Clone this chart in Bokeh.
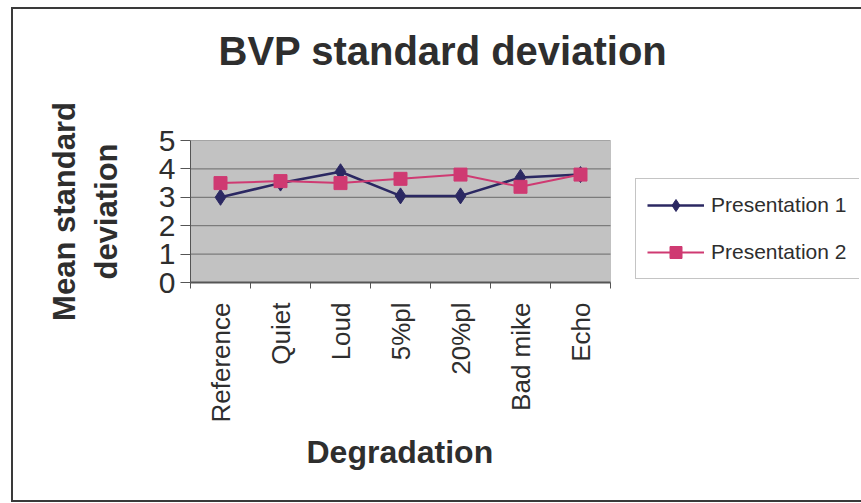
import math
from bokeh.plotting import figure
from bokeh.models import (FixedTicker, Legend, LegendItem, BoxAnnotation, Range1d,
                          Title, InlineStyleSheet)
from bokeh.embed import file_html
from bokeh.resources import INLINE

# ---- data ----
categories = ["Reference", "Quiet", "Loud", "5%pl", "20%pl", "Bad mike", "Echo"]
presentation_1 = [3.0, 3.5, 3.9, 3.05, 3.05, 3.7, 3.8]
presentation_2 = [3.5, 3.57, 3.5, 3.65, 3.8, 3.37, 3.8]
y_ticks = [0, 1, 2, 3, 4, 5]
title_text = "BVP standard deviation"
x_title = "Degradation"
y_title = "Mean standard\ndeviation"

FONT = "Liberation Sans"
TXT = "#2e2e2e"
C1 = "#2b2862"
C2 = "#cf3a72"

n = len(categories)
xs = [i + 0.5 for i in range(n)]
ymax = y_ticks[-1]

# plot area 420 px wide for the categories; frame extends right to host the legend
FRAME_W = 861 - 190 - 2
x_end = n * FRAME_W / 420.0

p = figure(width=861, height=503, output_backend="svg", toolbar_location=None,
           x_range=Range1d(0, x_end), y_range=Range1d(0, ymax),
           min_border_left=190, min_border_right=2,
           min_border_top=140, min_border_bottom=221)

p.background_fill_color = "white"
p.border_fill_color = "white"
p.outline_line_color = None
p.xgrid.grid_line_color = None
p.ygrid.grid_line_color = None
p.stylesheets = [InlineStyleSheet(css="""
:host { position: relative; }
:host::after {
  content: ""; position: absolute; left: 11px; top: 7px; right: -10px; bottom: 1px;
  border: 2px solid #3a3a3a; pointer-events: none; z-index: 1000;
}
""")]

# grey plot area
p.add_layout(BoxAnnotation(left=0, right=n, bottom=0, top=ymax,
                           fill_color="#c2c2c2", fill_alpha=1,
                           line_color="#7a7a7a", line_width=1, level="image"))
# horizontal gridlines limited to the plot area
p.segment(x0=[0] * len(y_ticks), x1=[n] * len(y_ticks), y0=y_ticks, y1=y_ticks,
          line_color="#6a6a6a", line_width=1)

# x axis
xa = p.xaxis[0]
xa.bounds = (0, n)
xa.ticker = FixedTicker(ticks=xs, minor_ticks=list(range(n + 1)))
xa.major_label_overrides = {x: c for x, c in zip(xs, categories)}
xa.major_label_orientation = math.pi / 2
xa.major_tick_line_color = None
xa.major_tick_out = 0
xa.major_tick_in = 0
xa.minor_tick_line_color = "#555555"
xa.minor_tick_out = 6
xa.minor_tick_in = 0
xa.axis_line_color = "#555555"
xa.axis_line_width = 2
xa.major_label_standoff = 14
xa.major_label_text_font = FONT
xa.major_label_text_font_size = "26px"
xa.major_label_text_color = TXT

p.add_layout(Title(text=x_title, align="left", offset=116, standoff=12,
                   text_font=FONT, text_font_style="bold", text_font_size="32px",
                   text_color=TXT), "below")

# y axis
ya = p.yaxis[0]
ya.ticker = FixedTicker(ticks=y_ticks)
ya.major_tick_out = 10
ya.major_tick_in = 0
ya.major_tick_line_color = "#555555"
ya.minor_tick_line_color = None
ya.axis_line_color = "#555555"
ya.axis_line_width = 1
ya.major_label_standoff = 5
ya.major_label_text_font = FONT
ya.major_label_text_font_size = "30px"
ya.major_label_text_color = TXT
ya.axis_label = y_title
ya.axis_label_text_font = FONT
ya.axis_label_text_font_style = "bold"
ya.axis_label_text_font_size = "31px"
ya.axis_label_text_color = TXT
ya.axis_label_standoff = 32

# series
l1 = p.line(xs, presentation_1, line_color=C1, line_width=2.5)
m1 = p.scatter(xs, presentation_1, marker="diamond", size=16,
               fill_color=C1, line_color=C1)
l2 = p.line(xs, presentation_2, line_color=C2, line_width=2)
m2 = p.scatter(xs, presentation_2, marker="square", size=13,
               fill_color=C2, line_color=C2)

legend = Legend(items=[LegendItem(label="Presentation 1", renderers=[l1, m1]),
                       LegendItem(label="Presentation 2", renderers=[l2, m2])],
                location=(445, 3), orientation="vertical",
                glyph_width=57, glyph_height=30, label_height=30,
                label_width=140, label_standoff=7, padding=11, spacing=17,
                margin=0, border_line_color="#8a8a8a", border_line_width=1,
                background_fill_color="white", background_fill_alpha=1,
                label_text_font=FONT, label_text_font_size="21px",
                label_text_color=TXT)
p.add_layout(legend)

# title: a blank spacer next to the frame, then the chart title further up
p.title.text = ""
p.add_layout(Title(text=" ", text_font=FONT, text_font_size="10px", standoff=55),
             "above")
p.add_layout(Title(text=title_text, align="left", offset=28, standoff=0,
                   text_font=FONT, text_font_style="bold", text_font_size="40px",
                   text_color=TXT), "above")

open("out.html", "w").write(file_html(p, INLINE))
